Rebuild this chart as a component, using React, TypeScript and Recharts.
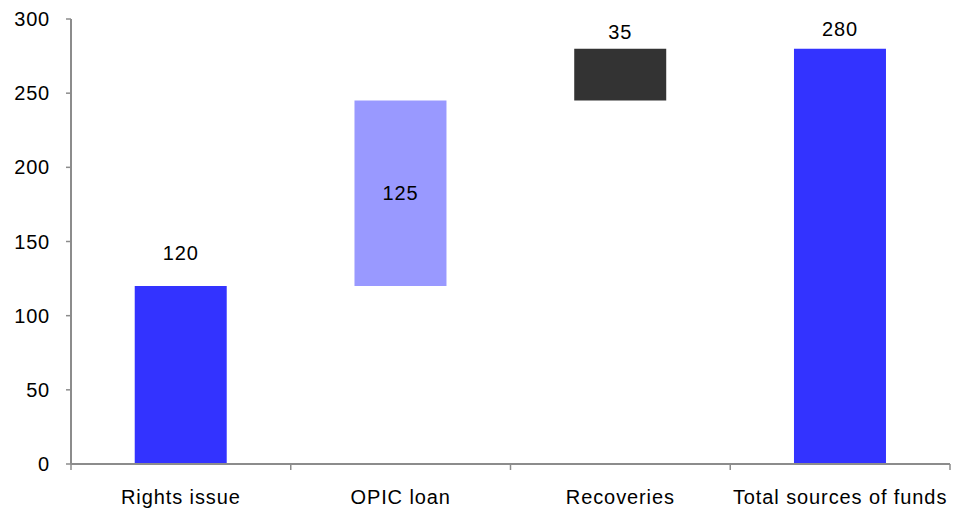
import React from 'react'
import { BarChart, Bar, XAxis, YAxis, Cell, LabelList } from 'recharts'

// Waterfall: invisible base + visible step
const categories = ['Rights issue', 'OPIC loan', 'Recoveries', 'Total sources of funds']
const baseValues = [0, 120, 245, 0]
const stepValues = [120, 125, 35, 280]
const yTicks = [0, 50, 100, 150, 200, 250, 300]

const BAR_COLORS = ['#3333FF', '#9999FF', '#333333', '#3333FF']
// label placement per bar: 'top' with extra lift, or centred inside
const LABEL_POS = ['top', 'inside', 'top', 'top']
const LABEL_LIFT = [26, 0, 10, 13]

const FONT = '"Liberation Sans", Arial, sans-serif'
const AXIS_COLOR = '#8c8c8c'

const chartData = categories.map((name, i) => ({
  name,
  base: baseValues[i],
  step: stepValues[i],
}))

const CategoryTick = (props: any) => {
  const { x, y, payload, index } = props
  const half = payload?.offset ?? 110
  return (
    <g>
      <line x1={x + half} y1={y - 8} x2={x + half} y2={y - 2} stroke={AXIS_COLOR} strokeWidth={1.5} />
      {index === 0 && (
        <line x1={x - half} y1={y - 8} x2={x - half} y2={y - 2} stroke={AXIS_COLOR} strokeWidth={1.5} />
      )}
      <text x={x} y={y + 32} textAnchor="middle" fontSize={20} letterSpacing={0.9} fill="#000" fontFamily={FONT}>
        {payload.value}
      </text>
    </g>
  )
}

const StepLabel = (props: any) => {
  const { x, y, width, height, index, value } = props
  const cx = x + width / 2
  if (LABEL_POS[index] === 'inside') {
    return (
      <text x={cx} y={y + height / 2} dy="0.35em" textAnchor="middle" fontSize={20} letterSpacing={0.8} fill="#000" fontFamily={FONT}>
        {value}
      </text>
    )
  }
  return (
    <text x={cx} y={y - LABEL_LIFT[index]} textAnchor="middle" fontSize={20} letterSpacing={0.8} fill="#000" fontFamily={FONT}>
      {value}
    </text>
  )
}

export default function App() {
  return (
    <div style={{ position: 'absolute', left: 0, top: 0, width: 957, height: 508, background: '#fff' }}>
      <BarChart
        width={957}
        height={508}
        data={chartData}
        margin={{ top: 19, right: 7, bottom: 14, left: 11 }}
        barCategoryGap="29%"
      >
        <XAxis
          dataKey="name"
          tick={<CategoryTick />}
          tickLine={false}
          axisLine={{ stroke: AXIS_COLOR, strokeWidth: 2 }}
          height={30}
          interval={0}
        />
        <YAxis
          domain={[0, 300]}
          ticks={yTicks}
          width={60}
          tick={{ fontSize: 20, fill: '#000', fontFamily: FONT, letterSpacing: 0.8 }}
          tickLine={{ stroke: AXIS_COLOR, strokeWidth: 1.5 }}
          tickSize={5}
          tickMargin={16}
          axisLine={{ stroke: AXIS_COLOR, strokeWidth: 2 }}
        />
        <Bar dataKey="base" stackId="w" fill="transparent" isAnimationActive={false} />
        <Bar dataKey="step" stackId="w" isAnimationActive={false}>
          {chartData.map((d, i) => (
            <Cell key={d.name} fill={BAR_COLORS[i]} />
          ))}
          <LabelList dataKey="step" content={<StepLabel />} />
        </Bar>
      </BarChart>
    </div>
  )
}
